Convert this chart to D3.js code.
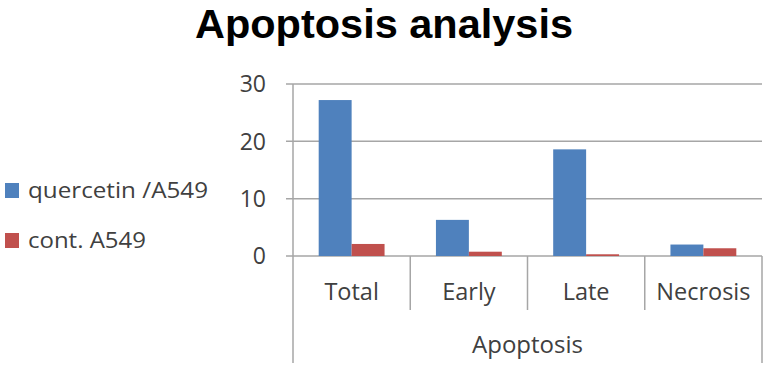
<!DOCTYPE html>
<html>
<head>
<meta charset="utf-8">
<script src="https://cdn.jsdelivr.net/npm/d3@7"></script>
<style>
  body { margin: 0; background: #fff; }
  text { font-family: "Open Sans", "Liberation Sans", sans-serif; }
</style>
</head>
<body>
<div id="chart"></div>
<script>
// chart values
const categories = ["Total", "Early", "Late", "Necrosis"];
const seriesNames = ["quercetin /A549", "cont. A549"];
const quercetinVals = [27.2, 6.3, 18.6, 2.0];
const controlVals = [2.1, 0.75, 0.3, 1.35];
const yTicks = [0, 10, 20, 30];
const groupLabel = "Apoptosis";
const colors = ["#4F81BD", "#C0504D"];

const W = 771, H = 367;
const plotLeft = 293, plotRight = 762, plotTop = 84, plotBottom = 256;

const svg = d3.select("#chart").append("svg").attr("width", W).attr("height", H);

const x = d3.scaleBand().domain(categories).range([plotLeft, plotRight]);
const sub = d3.scaleBand().domain(seriesNames).range([0, x.bandwidth()]).paddingInner(0).paddingOuter(0.78);
const y = d3.scaleLinear().domain([0, 30]).range([plotBottom, plotTop]);

// gridlines
svg.append("g").selectAll("line")
  .data(yTicks)
  .enter()
  .append("line")
  .attr("x1", plotLeft - 7)
  .attr("x2", plotRight)
  .attr("y1", (d) => y(d))
  .attr("y2", (d) => y(d))
  .attr("stroke", "#a6a6a6")
  .attr("stroke-width", 1.5);

// y axis line
svg.append("line")
  .attr("x1", plotLeft).attr("x2", plotLeft)
  .attr("y1", plotTop).attr("y2", plotBottom)
  .attr("stroke", "#a6a6a6").attr("stroke-width", 1.5);

svg.append("g").selectAll("text")
  .data(yTicks)
  .enter()
  .append("text")
  .attr("x", plotLeft - 27)
  .attr("y", (d) => y(d))
  .attr("dy", "0.36em")
  .attr("text-anchor", "end")
  .attr("font-size", 23)
  .attr("fill", "#404040")
  .text((d) => d);

// bars
const rows = categories.map((c, i) => ({ cat: c, vals: [quercetinVals[i], controlVals[i]] }));
const groups = svg.append("g").selectAll("g")
  .data(rows)
  .enter()
  .append("g")
  .attr("transform", (d) => `translate(${x(d.cat)},0)`);

groups.selectAll("rect")
  .data((d) => d.vals.map((v, j) => ({ name: seriesNames[j], v, j })))
  .enter()
  .append("rect")
  .attr("x", (d) => sub(d.name))
  .attr("y", (d) => y(d.v))
  .attr("width", sub.bandwidth())
  .attr("height", (d) => plotBottom - y(d.v))
  .attr("fill", (d) => colors[d.j]);

// category axis: boundaries
const bounds = categories.map((c) => x(c)).concat([plotRight]);
svg.append("g").selectAll("line")
  .data(bounds)
  .enter()
  .append("line")
  .attr("x1", (d) => d).attr("x2", (d) => d)
  .attr("y1", plotBottom)
  .attr("y2", (d, i) => (i === 0 || i === bounds.length - 1) ? 363 : 310)
  .attr("stroke", "#a6a6a6")
  .attr("stroke-width", 1.5);

svg.append("g").selectAll("text")
  .data(categories)
  .enter()
  .append("text")
  .attr("x", (d) => x(d) + x.bandwidth() / 2)
  .attr("y", 300)
  .attr("text-anchor", "middle")
  .attr("font-size", 23.5)
  .attr("fill", "#404040")
  .text((d) => d);

svg.append("text")
  .attr("x", (plotLeft + plotRight) / 2)
  .attr("y", 353)
  .attr("text-anchor", "middle")
  .attr("font-size", 24)
  .attr("fill", "#404040")
  .text(groupLabel);

// title
svg.append("text")
  .attr("x", 384)
  .attr("y", 38)
  .attr("text-anchor", "middle")
  .style("font-family", "'Liberation Sans', Arial, sans-serif")
  .attr("font-size", 40)
  .attr("font-weight", "bold")
  .attr("fill", "#000")
  .attr("textLength", 378)
  .attr("lengthAdjust", "spacingAndGlyphs")
  .text("Apoptosis analysis");

// legend
const legend = svg.append("g").selectAll("g")
  .data(seriesNames)
  .enter()
  .append("g")
  .attr("transform", (d, i) => `translate(0,${i === 0 ? 198 : 248})`);

legend.append("rect")
  .attr("x", 5).attr("y", -15)
  .attr("width", 14).attr("height", 15)
  .attr("fill", (d, i) => colors[i]);

legend.append("text")
  .attr("x", 28)
  .attr("y", 0)
  .attr("font-size", 22)
  .attr("fill", "#404040")
  .attr("textLength", (d, i) => (i === 0 ? 180 : 118))
  .attr("lengthAdjust", "spacingAndGlyphs")
  .text((d) => d);
</script>
</body>
</html>
